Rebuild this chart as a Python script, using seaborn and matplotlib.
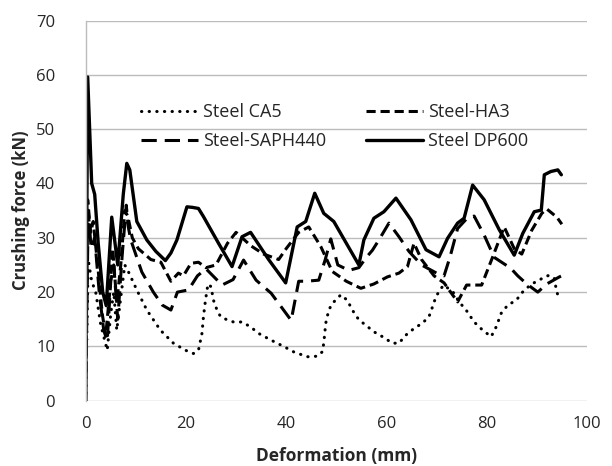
import matplotlib
matplotlib.use("Agg")
import matplotlib.pyplot as plt
import seaborn as sns

# Steel DP600 (solid)
x_dp600 = [0, 0.4, 1.2, 1.8, 2.5, 3.4, 4.1, 5.2, 6.4, 7.5, 8.2, 8.8, 10.2, 12.2, 14, 15.9, 17, 18.2, 20.2, 21.3,
           22.5, 23.5, 26.5, 29.2, 31.2, 32.9, 36.5, 39.9, 42.2, 43.9, 45.7, 47.5, 49.5, 52, 54.5, 55.5, 57.5, 59.5,
           61.9, 64.9, 67.9, 70.5, 72.2, 74.2, 75.5, 77.2, 79.5, 82.5, 85.5, 87.2, 89.5, 90.9, 91.5, 92.8, 94.2, 94.9]
y_dp600 = [0, 59.6, 40, 38, 29, 20, 17.5, 33.8, 25, 38, 43.7, 42.5, 33, 29.6, 27.5, 25.8, 27.2, 29.6, 35.7, 35.6,
           35.4, 33.9, 29, 24.7, 30.2, 31, 26, 21.7, 32, 33, 38.2, 34.5, 33, 29, 25, 29.6, 33.6, 34.8,
           37.3, 33.3, 27.8, 26.5, 29.9, 32.7, 33.6, 39.7, 37, 31.5, 26.8, 30.8, 34.8, 35.1, 41.6, 42.2, 42.5, 41.6]

# Steel-HA3 (short dash)
x_ha3 = [0, 0.4, 1.0, 1.5, 2.5, 3.3, 4.0, 4.8, 5.4, 6.2, 7, 7.8, 8.4, 9.3, 10.5, 13, 15, 17, 18.5, 19.5, 21, 22.5,
         24, 26, 28.3, 30, 33, 35.5, 38.5, 40, 42.5, 44.5, 46.9, 49.2, 52, 54.9, 57.5, 60.2, 62.5, 64.2, 65.5, 67,
         69.5, 71.5, 74.2, 76, 79, 81, 83.5, 85.5, 87, 89, 91, 92, 94, 95]
y_ha3 = [0, 37, 31, 33, 24, 16, 12, 20, 28, 18, 25, 35, 34, 30, 28, 26, 25.5, 22, 23.5, 23, 25.3, 25.5,
         24.5, 25, 29, 31, 28.5, 27, 26, 28, 31, 32, 28.4, 23.8, 22, 20.7, 21.5, 22.8, 23.5, 24.7, 29, 26,
         23, 21.7, 18.2, 21.3, 21.3, 26, 32, 28, 27, 31.4, 34.5, 35.3, 33.8, 32.5]

# Steel-SAPH440 (long dash)
x_saph = [0, 0.5, 1.1, 1.8, 2.7, 3.6, 4.3, 5.0, 5.6, 6.4, 7.3, 8.1, 8.5, 9.0, 11.2, 13.5, 15.3, 17, 18.3, 20.5,
          22.3, 24, 27.2, 29.4, 31.5, 34, 37, 41, 42.5, 44, 46.5, 47.8, 48.9, 50.3, 52.5, 54.5, 56, 57.2, 58.5,
          60.5, 62.5, 64.5, 67, 70, 71.5, 72.7, 74.2, 76, 77.5, 79.5, 81.5, 84.8, 86.2, 88, 90.2, 92, 94.5, 95]
y_saph = [0, 35, 28, 30, 20, 13, 11, 22, 25, 15, 27, 36, 32, 29.6, 23.7, 20, 17.6, 16.7, 20, 20.4,
          23, 24.3, 21.3, 22.3, 25.9, 22.2, 19.8, 14.8, 22, 22, 22.2, 26, 29.8, 25, 24, 24.5, 26.4, 27.7, 29.6,
          32.7, 30.2, 27.5, 25, 23.5, 23, 26.5, 31.7, 33.5, 34, 30.5, 26.4, 24.4, 23, 21.5, 20, 21.5, 22.8, 23]

# Steel CA5 (dotted)
x_ca5 = [0, 0.5, 1.2, 2, 3, 4.3, 5, 5.6, 6.2, 7, 7.8, 8.4, 10.2, 12.2, 14.9, 17.5, 19.9, 21.5, 22.5, 23.2, 23.5,
         23.9, 24.4, 25, 25.5, 26.2, 26.9, 28.2, 29.5, 31.2, 32.9, 34.5, 36.9, 39.5, 41.5, 44.2, 46.2, 47.2, 47.5,
         47.9, 48.5, 49.2, 50.9, 52.2, 53.2, 54.5, 55.9, 57.5, 59.2, 61.2, 62.5, 63.9, 65.5, 67.2, 68.5, 69.2,
         69.9, 70.9, 71.5, 73.5, 74.5, 75.9, 77.5, 79.2, 80.9, 81.9, 82.9, 84.2, 85.9, 87.5, 89.2, 90.5, 91.5,
         92.5, 93.5, 93.9, 94.5]
y_ca5 = [0, 26, 22, 20, 14, 9.3, 16, 20, 13, 19, 25, 24, 20.4, 16.7, 13, 10.6, 9.3, 8.7, 9.3, 12.4, 15.5,
         18.5, 21.5, 21, 18.5, 16.7, 15.5, 14.9, 14.5, 14.5, 13.6, 12.4, 11.2, 10, 9, 8.1, 8.2, 9, 10.6,
         14.3, 16.7, 17.9, 19.5, 18.5, 16.7, 14.9, 13.9, 12.7, 11.8, 10.6, 10.6, 12.1, 13.3, 14.3, 15.5, 17.3,
         19.2, 20.7, 21.3, 19.8, 18.2, 16.7, 14.5, 13, 11.8, 13.6, 16.1, 17.6, 18.5, 20.4, 21.6, 22.2, 22.8,
         23.1, 22.5, 20.4, 18.5]

y_ticks = [0, 10, 20, 30, 40, 50, 60, 70]
x_ticks = [0, 20, 40, 60, 80, 100]

sns.set_style("white")
plt.rcParams['font.family'] = ['Open Sans', 'DejaVu Sans']

fig = plt.figure(figsize=(6.12, 4.66), dpi=100)
ax = fig.add_axes([0.140, 0.140, 0.819, 0.816])

lw = 2.2
sns.lineplot(x=x_ca5, y=y_ca5, ax=ax, sort=False, estimator=None, color='black', lw=lw,
             linestyle=(0, (0.1, 2.4)), dash_capstyle='round', label='Steel CA5')
sns.lineplot(x=x_saph, y=y_saph, ax=ax, sort=False, estimator=None, color='black', lw=lw,
             linestyle=(0, (5, 2.6)), label='Steel-SAPH440')
sns.lineplot(x=x_ha3, y=y_ha3, ax=ax, sort=False, estimator=None, color='black', lw=lw,
             linestyle=(0, (3, 1.6)), label='Steel-HA3')
sns.lineplot(x=x_dp600, y=y_dp600, ax=ax, sort=False, estimator=None, color='black', lw=lw + 0.2,
             linestyle='-', label='Steel DP600')

ax.set_xlim(0, 100)
ax.set_ylim(0, 70)
ax.set_xticks(x_ticks)
ax.set_yticks(y_ticks)
ax.tick_params(axis='y', length=0, labelsize=12, pad=22)
ax.tick_params(axis='x', length=0, labelsize=12, pad=11)
ax.yaxis.grid(True, color='#bcbcbc', lw=1)
ax.xaxis.grid(False)
for s in ['top', 'right', 'bottom']:
    ax.spines[s].set_visible(False)
ax.spines['left'].set_color('#bcbcbc')
ax.spines['left'].set_linewidth(1)

ax.set_xlabel('Deformation (mm)', fontsize=12.5, fontweight='bold', labelpad=11)
ax.set_ylabel('Crushing force (kN)', fontsize=12, fontweight='bold', labelpad=4)

ax.legend(ncol=2, frameon=False, loc='upper left', bbox_to_anchor=(0.077, 0.825),
          fontsize=13, handlelength=3.2, handletextpad=0.25, columnspacing=2.2, labelspacing=0.62)

fig.savefig('out.png', dpi=100)
